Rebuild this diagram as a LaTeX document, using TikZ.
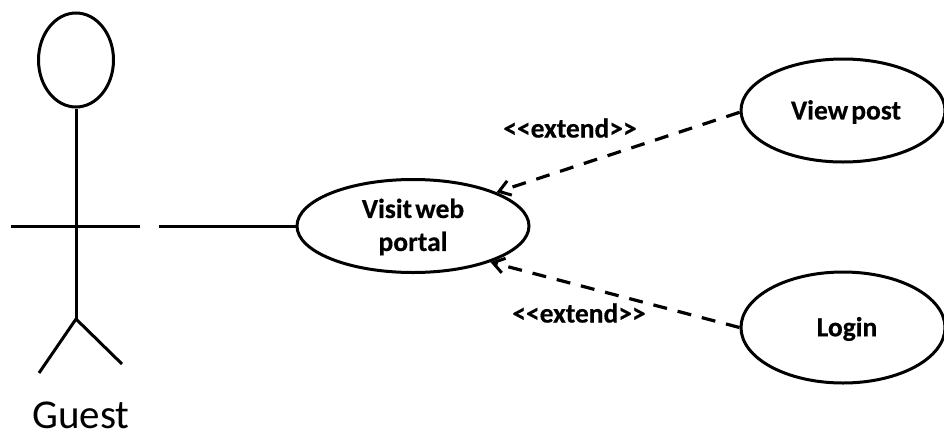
\documentclass[tikz,border=0pt]{standalone}
\usepackage{fontspec}
\setmainfont{Carlito}[WordSpace=0.5]
\usetikzlibrary{shapes.geometric,arrows.meta}
\tikzset{
 usecase/.style={draw=black,line width=3pt,ellipse,inner sep=0pt},
 lbl/.style={font=\fontsize{27.5pt}{32pt}\selectfont\bfseries\addfontfeature{FakeBold=0.4},align=center,inner sep=0pt},
 limb/.style={line width=3pt,draw=black},
 dep/.style={line width=3.2pt,draw=black,dash pattern=on 14pt off 11pt,-{Straight Barb[length=11pt,width=15pt,line width=3pt]}},
}
\begin{document}
\begin{tikzpicture}[x=1pt,y=-1pt]
\useasboundingbox (0,0) rectangle (944,434);
\fill[white] (0,0) rectangle (944,434);
% actor
\node[usecase,minimum width=75pt,minimum height=94pt] (head) at (76,60) {};
\coordinate (hip) at (76,319);
\coordinate (armL) at (11,226);
\coordinate (armR) at (140,226);
\coordinate (footL) at (39,373);
\coordinate (footR) at (122,364);
\draw[limb] (head.south) -- (hip);
\draw[limb] (armL) -- (armR);
\draw[limb] (footL) -- (hip) -- (footR);
\node[font=\fontsize{41pt}{46pt}\selectfont,inner sep=0pt] (guest) at (81,415) {Guest};
% use cases
\node[usecase,minimum width=232pt,minimum height=93pt] (visit) at (413,226) {};
\node[lbl] (visitt) at (413,227) {Visit web\\[1pt]portal};
\node[usecase,minimum width=204pt,minimum height=103pt] (view) at (843,110.5) {};
\node[lbl] (viewt) at (846,112) {View post};
\node[usecase,minimum width=204pt,minimum height=111pt] (login) at (843,327.5) {};
\node[lbl] (logint) at (847,329) {Login};
% connectors
\coordinate (assoc) at (159,226);
\draw[limb] (assoc) -- (visit.west);
\draw[dep] (view.181) -- (visit.22);
\draw[dep] (login.west) -- (visit.-25);
\node[lbl] (ext1) at (570,128) {<{}<extend>{}>};
\node[lbl] (ext2) at (579,313) {<{}<extend>{}>};
\end{tikzpicture}
\end{document}
